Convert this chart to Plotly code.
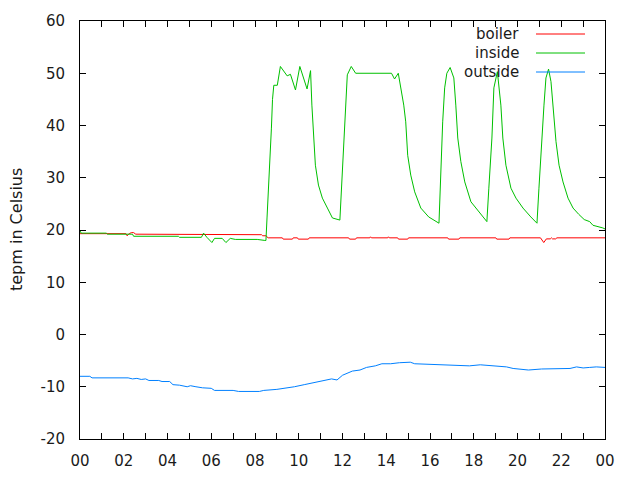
import plotly.graph_objects as go

# ---------------- data ----------------
tick_hours = list(range(0, 25))
tick_labels = [("%02d" % (h % 24)) if h % 2 == 0 else "" for h in tick_hours]
y_ticks = [-20, -10, 0, 10, 20, 30, 40, 50, 60]
y_tick_labels = ["-20", "-10", "0", "10", "20", "30", "40", "50", "60"]

boiler_h = [0, 2.1, 2.15, 2.25, 2.35, 2.45, 2.55, 3.55, 3.6, 8.3, 8.35, 8.5, 8.6,
            9.25, 9.29, 9.71, 9.75, 9.94, 9.98, 10.44, 10.48, 12.28, 12.32, 12.6, 12.64,
            13.25, 13.28, 13.32, 14.07, 14.1, 14.14, 14.52, 14.56, 14.98, 15.02,
            16.81, 16.85, 17.32, 17.36, 19.01, 19.05, 19.61, 19.65, 21.05, 21.2, 21.32,
            21.5, 21.55, 21.6, 21.75, 21.8, 24]
boiler_t = [19.3, 19.3, 18.9, 19.3, 19.5, 19.5, 19.2, 19.2, 19.1, 19.1, 18.9, 18.9, 18.5,
            18.5, 18.25, 18.25, 18.5, 18.5, 18.25, 18.25, 18.5, 18.5, 18.25, 18.25, 18.5,
            18.5, 18.7, 18.5, 18.5, 18.7, 18.5, 18.5, 18.25, 18.25, 18.5,
            18.5, 18.25, 18.25, 18.5, 18.5, 18.25, 18.25, 18.5, 18.5, 17.6, 18.3,
            18.3, 18.5, 18.3, 18.3, 18.5, 18.5]

inside_h = [0, 0.05, 1.2, 1.25, 2.4, 2.45, 4.5, 4.55, 5.55, 5.65, 5.8, 6.03, 6.15, 6.5,
            6.67, 6.87, 7.1, 8.1, 8.45, 8.5, 8.55, 8.62, 8.7, 8.75, 8.8, 8.86, 9.02, 9.16,
            9.47, 9.62, 9.85, 10.05, 10.38, 10.54, 10.6, 10.67, 10.76, 10.9, 11.08, 11.31,
            11.54, 11.88, 11.95, 12.05, 12.14, 12.22, 12.4, 12.6, 14.24, 14.38, 14.55,
            14.66, 14.8, 14.89, 14.98, 15.12, 15.3, 15.58, 15.94, 16.41, 16.49, 16.58,
            16.67, 16.77, 16.92, 17.09, 17.18, 17.27, 17.41, 17.59, 17.87, 18.23, 18.6,
            18.69, 18.83, 18.92, 19.08, 19.24, 19.33, 19.47, 19.7, 19.93, 20.25, 20.61,
            20.89, 20.98, 21.12, 21.21, 21.3, 21.42, 21.53, 21.62, 21.76, 21.9, 22.08,
            22.31, 22.54, 22.8, 23.05, 23.3, 23.45, 23.9, 24]
inside_t = [19.9, 19.4, 19.4, 19.2, 19.2, 18.8, 18.8, 18.6, 18.6, 19.4, 18.6, 17.6, 18.4,
            18.4, 17.6, 18.4, 18.2, 18.2, 18.0, 18.0, 22.3, 28, 34, 39.5, 45, 47.7, 47.7,
            51.3, 49.5, 49.8, 46.8, 51.3, 47, 50.5, 43.9, 37.6, 32.4, 28.6, 26.1, 24.2,
            22.3, 21.9, 28, 35.7, 44.6, 49.7, 51.3, 50, 50, 48.9, 50,
            47.2, 43.9, 40.7, 34.3, 30.5, 27.3, 24.2, 22.5, 21.3, 31.3, 40.7,
            47.2, 50, 51.1, 49.1, 43.9, 37.6, 33.1, 29.2, 25.4, 23.5, 21.6,
            28, 37.6, 47.2, 50.3, 43.9, 37.6, 32.4, 28, 26.1, 24.2, 22.5,
            21.3, 28, 38.8, 43.9, 49.1, 50.8, 48.4, 43.3, 36.9, 32.4, 29.2,
            26.1, 24.2, 23.0, 22.0, 21.6, 20.9, 20.4, 20.2]

outside_h = [0, 0.45, 0.55, 2.2, 2.4, 2.6, 2.8, 3.0, 3.15, 3.6, 3.75, 4.1, 4.25, 4.55,
             4.9, 5.05, 5.3, 5.5, 5.6, 6.0, 6.15, 7.0, 7.25, 8.2, 8.4, 9.0, 9.6, 9.8,
             10.25, 10.9, 11.5, 11.75, 12.0, 12.45, 12.8, 13.1, 13.5, 13.8, 14.2, 14.6,
             15.1, 15.3, 16.0, 16.6, 17.0, 17.8, 18.3, 18.6, 19.0, 19.5, 19.8, 20.2,
             20.5, 21.1, 21.4, 22.0, 22.4, 22.7, 23.0, 23.3, 23.6, 24]
outside_t = [-8.0, -8.0, -8.3, -8.3, -8.5, -8.4, -8.6, -8.5, -8.8, -8.8, -9.0, -9.0, -9.6,
             -9.7, -10.0, -9.8, -10.0, -10.2, -10.2, -10.3, -10.7, -10.7, -10.9, -10.9,
             -10.7, -10.5, -10.2, -10.0, -9.6, -9.0, -8.5, -8.7, -7.8, -7.0, -6.8, -6.3,
             -6.0, -5.6, -5.6, -5.4, -5.3, -5.6, -5.7, -5.8, -5.9, -6.0, -5.8, -5.9,
             -6.1, -6.2, -6.5, -6.6, -6.8, -6.6, -6.6, -6.5, -6.5, -6.2, -6.4, -6.3,
             -6.2, -6.3]

series_names = ["boiler", "inside", "outside"]
series_colors = ["#ff0000", "#00c000", "#0080ff"]

# ---------------- figure ----------------
FONT = "DejaVu Sans"
TXT = "#1a1a1a"
W, H = 640, 480
# plot-area edges in pixels
L, R, T, B = 80, 605, 21, 439

fig = go.Figure()
for name, xs, ys, col in zip(series_names,
                             [boiler_h, inside_h, outside_h],
                             [boiler_t, inside_t, outside_t],
                             series_colors):
    fig.add_trace(go.Scatter(x=xs, y=ys, mode="lines", name=name,
                             line=dict(color=col, width=1), showlegend=False,
                             hoverinfo="skip"))

def px(x):
    return (x - L) / (R - L)
def py(y):
    return (B - y) / (B - T)

# gnuplot-style key: text right-aligned, sample line on the right
key_y = [34, 53, 72]
for name, col, yy in zip(series_names, series_colors, key_y):
    fig.add_annotation(x=px(521), y=py(yy), xref="paper", yref="paper",
                       text=name, showarrow=False, xanchor="right", yanchor="middle",
                       font=dict(family=FONT, size=15, color=TXT))
    fig.add_shape(type="line", xref="paper", yref="paper",
                  x0=px(536), x1=px(585), y0=py(yy), y1=py(yy),
                  line=dict(color=col, width=1))

# y axis title (rotated), placed like gnuplot's ylabel
fig.add_annotation(x=px(16), y=py(230), xref="paper", yref="paper",
                   text="tepm in Celsius", showarrow=False, textangle=-90,
                   xanchor="center", yanchor="middle",
                   font=dict(family=FONT, size=16, color=TXT))

axis_common = dict(showline=True, linecolor="black", linewidth=1, mirror="ticks",
                   ticks="inside", ticklen=6, tickcolor="black", showgrid=False,
                   zeroline=False, automargin=False,
                   tickfont=dict(family=FONT, size=15, color=TXT))

fig.update_layout(
    width=W, height=H,
    margin=dict(l=L, r=W - R, t=T, b=H - B),
    paper_bgcolor="white", plot_bgcolor="white",
    font=dict(family=FONT, size=15, color=TXT),
    xaxis=dict(range=[0, 24], tickmode="array", tickvals=tick_hours,
               ticktext=tick_labels, ticklabelstandoff=8, **axis_common),
    yaxis=dict(range=[-20, 60], tickmode="array", tickvals=y_ticks,
               ticktext=y_tick_labels, ticklabelstandoff=11, **axis_common),
)

# remove the page's default body margin so the 640x480 figure fills the window
fig.write_html("out.html",
               config={"displayModeBar": False},
               post_script="document.body.style.margin='0';"
                           "document.body.style.overflow='hidden';")
